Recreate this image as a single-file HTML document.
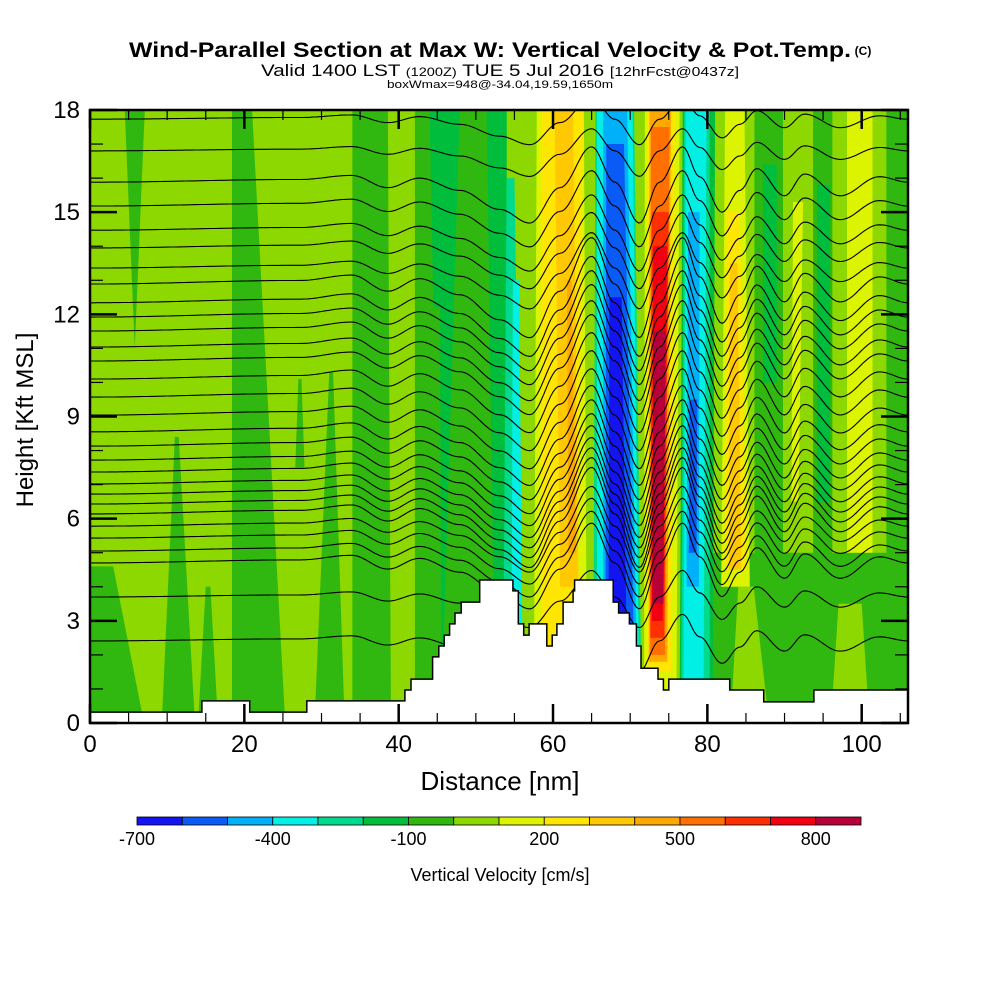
<!DOCTYPE html>
<html><head><meta charset="utf-8"><title>Wind-Parallel Section</title>
<style>
html,body{margin:0;padding:0;background:#fff;}
svg{display:block;font-family:"Liberation Sans",sans-serif;}
</style></head>
<body>
<svg id="chart" width="1000" height="1000" viewBox="0 0 1000 1000" xmlns="http://www.w3.org/2000/svg">
<rect width="1000" height="1000" fill="#fff"/>
<g>
<text x="490" y="57" font-size="21" font-weight="bold" text-anchor="middle" textLength="722" lengthAdjust="spacingAndGlyphs">Wind-Parallel Section at Max W: Vertical Velocity &amp; Pot.Temp.</text>
<text x="863" y="55" font-size="12" font-weight="bold" text-anchor="middle">(C)</text>
<text x="500" y="76" font-size="17" text-anchor="middle" textLength="478" lengthAdjust="spacingAndGlyphs">Valid 1400 LST <tspan font-size="12">(1200Z)</tspan> TUE 5 Jul 2016 <tspan font-size="13">[12hrFcst@0437z]</tspan></text>
<text x="500" y="88" font-size="11" text-anchor="middle" textLength="226" lengthAdjust="spacingAndGlyphs">boxWmax=948@-34.04,19.59,1650m</text>
</g>
<defs><clipPath id="plotClip"><rect x="90" y="110" width="818" height="613"/></clipPath></defs>
<g id="field" clip-path="url(#plotClip)"></g>
<g id="contours" clip-path="url(#plotClip)"></g>
<g id="terrain" clip-path="url(#plotClip)"></g>
<g id="axes"></g>
<text x="500" y="790" font-size="26" text-anchor="middle">Distance [nm]</text>
<text transform="translate(33,420) rotate(-90)" font-size="24" text-anchor="middle">Height [Kft MSL]</text>
<g id="colorbar"></g>
<text x="500" y="881" font-size="18" text-anchor="middle">Vertical Velocity [cm/s]</text>
</svg>
<script>
// ---- data ----
const colorLevels = [-700,-600,-500,-400,-300,-200,-100,0,100,200,300,400,500,600,700,800];
const levelColors = ['#1414f0','#0a5af5','#00b0f8','#00f0e6','#00da8e','#00be3c','#30b810','#8cd800','#dcf400','#ffe600','#ffc800','#ffa800','#ff7000','#ff3000','#f00010','#b80038'];
const colorbarLabels = ['-700','-400','-100','200','500','800'];
const colorbarLabelIdx = [0,3,6,9,12,15];
const xTicks = [0,20,40,60,80,100];
const yTicks = [0,3,6,9,12,15,18];
const backgroundValue = 50;
// bands: [value cm/s, hBottom, hTop, xLeftBottom, xRightBottom, xLeftTop, xRightTop] (nm, kft)
const bandRows = [
 [-50,11,18,5.8,5.8,4.5,7.1],
 [-50,0,4.6,0,7,0,3],
 [-50,0,18,18.4,25.3,18.4,21.0],
 [-50,0,8.4,9.3,13.6,11.0,11.5],
 [-50,0,4,14.0,16.6,15.0,15.6],
 [-50,7.5,10.1,26.6,27.8,27.0,27.4],
 [-50,0,10.3,29.1,33.0,31.0,31.5],
 [-50,0,18,34.0,39.0,34.0,38.6],
 [-50,0,18,42.1,48.0,42.1,46.0],
 [-150,12.2,18,44.5,46.0,44.0,46.0],
 [-150,0,18,45.5,54.0,45.3,54.0],
 [-50,0,18,45.5,52.5,47.9,51.4],
 [-250,0,16,53.5,56.1,54.0,55.0],
 [-350,1,13,54.6,56.1,54.8,55.6],
 [50,0,18,56.1,65.2,56.6,64.4],
 [150,0,18,57.5,64.4,57.9,64.0],
 [250,0,18,58.5,63.0,58.5,63.9],
 [350,4,18,60.9,63.3,60.2,62.6],
 [450,5,13,62.0,63.0,61.8,62.4],
 [-250,0,18,65.2,71.5,65.5,70.5],
 [-350,0,18,65.7,71.2,65.7,70.3],
 [-450,0,18,66.5,71.0,66.5,69.6],
 [-550,2,17,66.8,70.5,66.9,69.2],
 [-650,3,12.5,67.2,69.5,67.3,68.9],
 [-50,0,5,79,106,80,106],
 [50,0,4,83,88,84,86],
 [50,0,3.5,96,101,97,100],
 [50,0,18,71.4,76.6,71.5,76.8],
 [150,1,18,71.8,76.0,71.9,76.4],
 [250,1.5,18,72.2,75.3,72.2,75.8],
 [450,1.8,18,72.4,74.8,72.5,75.3],
 [550,2,17.5,72.6,74.5,72.7,75.1],
 [650,2.5,15,72.6,74.4,72.8,75.0],
 [750,3,14,72.8,74.2,73.0,74.8],
 [850,3.5,11.5,72.9,74.3,73.0,74.6],
 [-150,0,18,76.4,80.7,76.8,81.0],
 [-250,0.5,18,76.6,80.3,77.0,80.3],
 [-350,1,18,76.9,79.5,77.2,79.9],
 [-450,4,15,77.3,78.9,77.5,79.0],
 [-550,5,9.5,77.6,78.6,77.7,78.7],
 [150,4,18,81.8,85.5,82.3,84.8],
 [250,4.5,15,82.4,85.0,82.5,84.2],
 [350,4.5,13.5,82.8,84.4,82.9,83.9],
 [-50,4,18,86.1,89.8,86.1,89.8],
 [-150,10,16.4,87.2,89.0,87.2,89.0],
 [150,6.5,15.3,90.9,91.8,91.1,92.4],
 [-50,3,18,93.7,96.2,93.7,96.2],
 [-150,6.5,15.8,94.2,95.9,94.2,95.9],
 [150,5,18,98.1,101.4,98.1,101.4],
 [-50,0,18,103.2,106,103.2,106]
];
// isentrope base heights (kft at left edge)
const thetaBaseH = [17.73,16.8,15.88,15.18,14.47,13.95,13.36,12.89,12.34,11.92,11.51,11.04,10.63,10.1,9.57,9.04,8.55,8.13,7.72,7.37,7.02,6.72,6.43,6.14,5.78,5.43,5.05,4.7,3.7,2.41];
// isentrope vertical displacement (kft) at mid levels along distance (nm)
const dispX = [0,27.2,33.9,38.6,42.7,47.9,53.1,57,60.9,65,68,71.2,73.8,76.8,79,81.9,84.2,86.4,90,92.6,97.2,102.3,106];
const dispKft = [0,0.1,0.25,-0.2,0.15,-0.3,-1.0,-1.5,-0.2,1.3,0,-1.5,0,1.3,0.2,-1.1,-0.3,0.5,-0.5,0.3,-0.5,0.2,0];
// terrain step function: start distance (nm) and height (kft)
const terrainX = [0,14.5,20.7,28.1,40.8,41.6,44.4,45.2,45.9,46.6,47.3,48.1,50.5,54.8,55.5,56.2,56.9,59.2,59.9,60.5,61.3,62.6,62.8,67.8,68.5,69.9,70.8,71.4,73.6,74.3,75.0,82.9,87.3,93.8];
const terrainH = [0.32,0.65,0.32,0.65,0.97,1.29,1.94,2.26,2.58,2.91,3.23,3.55,4.2,3.88,2.91,2.58,2.91,2.26,2.58,2.91,3.55,3.88,4.2,3.55,3.23,2.91,2.26,1.61,1.29,0.97,1.29,0.97,0.62,0.97];

// ---- axis functions ----
const X0=90, X1=908, Y0=723, Y1=110, XMAX=106, YMAX=18;
function sx(d){return X0+(d/XMAX)*(X1-X0);}
function sy(h){return Y0-(h/YMAX)*(Y0-Y1);}
function colorFor(v){let i=Math.floor((v+700)/100);i=Math.max(0,Math.min(15,i));return levelColors[i];}
const NS='http://www.w3.org/2000/svg';
function mk(tag,attrs,parent){const e=document.createElementNS(NS,tag);for(const k in attrs)e.setAttribute(k,attrs[k]);parent.appendChild(e);return e;}

// ---- field ----
const field=document.getElementById('field');
const bg=mk('rect',{x:X0,y:Y1,width:X1-X0,height:Y0-Y1,fill:colorFor(backgroundValue)},field);


bandRows.forEach(function(b,i){
  const pts=[[sx(b[3]),sy(b[1])],[sx(b[4]),sy(b[1])],[sx(b[6]),sy(b[2])],[sx(b[5]),sy(b[2])]];
  const p=mk('polygon',{points:pts.map(q=>q.join(',')).join(' '),fill:colorFor(b[0])},field);
  
  
});

// ---- contours ----
function disp(d){
  for(let i=0;i<dispX.length-1;i++){
    if(d>=dispX[i]&&d<=dispX[i+1]){let t=(d-dispX[i])/(dispX[i+1]-dispX[i]);t=(1-Math.cos(Math.PI*t))/2;return dispKft[i]+t*(dispKft[i+1]-dispKft[i]);}
  }
  return 0;
}
function levelFactor(h){if(h>16)return 0.5;if(h>13)return 0.8;if(h>6)return 1.05;if(h>4)return 0.9;return 0.6;}
const cg=document.getElementById('contours');
thetaBaseH.forEach(function(h){
  const f=levelFactor(h);const pts=[];
  for(let d=0;d<=XMAX;d+=0.3){pts.push(sx(d).toFixed(1)+','+sy(h+f*disp(d)).toFixed(1));}
  const l=mk('polyline',{points:pts.join(' '),fill:'none',stroke:'#000','stroke-width':1.1},cg);
  
  
});

// ---- terrain ----
const tg=document.getElementById('terrain');
let tp=[[sx(0),sy(0)]];
for(let i=0;i<terrainX.length;i++){
  const xe=(i<terrainX.length-1)?terrainX[i+1]:XMAX;
  tp.push([sx(terrainX[i]),sy(terrainH[i])]);tp.push([sx(xe),sy(terrainH[i])]);
}
tp.push([sx(XMAX),sy(0)]);
const terr=mk('polygon',{points:tp.map(q=>q[0].toFixed(1)+','+q[1].toFixed(1)).join(' '),fill:'#fff',stroke:'#000','stroke-width':1.5},tg);



// ---- axes ----
const ax=document.getElementById('axes');
const frame=mk('rect',{x:X0,y:Y1,width:X1-X0,height:Y0-Y1,fill:'none',stroke:'#000','stroke-width':2.5},ax);


for(let d=0;d<=105;d+=5){
  const major=(d%20===0);const L=major?19:10;const w=major?2.5:1.2;
  const t1=mk('line',{x1:sx(d),x2:sx(d),y1:Y0,y2:Y0-L,stroke:'#000','stroke-width':w},ax);
  
  
  const t2=mk('line',{x1:sx(d),x2:sx(d),y1:Y1,y2:Y1+L,stroke:'#000','stroke-width':w},ax);
  
  
}
for(let h=0;h<=18;h+=1){
  const major=(h%3===0);const L=major?27:13;const w=major?2.5:1.2;
  const t1=mk('line',{x1:X0,x2:X0+L,y1:sy(h),y2:sy(h),stroke:'#000','stroke-width':w},ax);
  
  
  const t2=mk('line',{x1:X1,x2:X1-L,y1:sy(h),y2:sy(h),stroke:'#000','stroke-width':w},ax);
  
  
}
xTicks.forEach(function(d){
  const t=mk('text',{x:sx(d),y:752,'font-size':24,'text-anchor':'middle'},ax);
  t.textContent=String(d);
  
  
});
yTicks.forEach(function(h){
  const t=mk('text',{x:80,y:sy(h)+8,'font-size':24,'text-anchor':'end'},ax);
  t.textContent=String(h);
  
  
});

// ---- colorbar ----
const cb=document.getElementById('colorbar');
const CB0=137, CBW=(861-137)/16;
colorLevels.forEach(function(v,i){
  const r=mk('rect',{x:CB0+i*CBW,y:817,width:CBW,height:8,fill:levelColors[i],stroke:'#000','stroke-width':0.8},cb);
  
  
});
colorbarLabels.forEach(function(s,j){
  const t=mk('text',{x:CB0+colorbarLabelIdx[j]*CBW,y:845,'font-size':18,'text-anchor':'middle'},cb);
  t.textContent=s;
  
  
});
</script>
</body></html>
